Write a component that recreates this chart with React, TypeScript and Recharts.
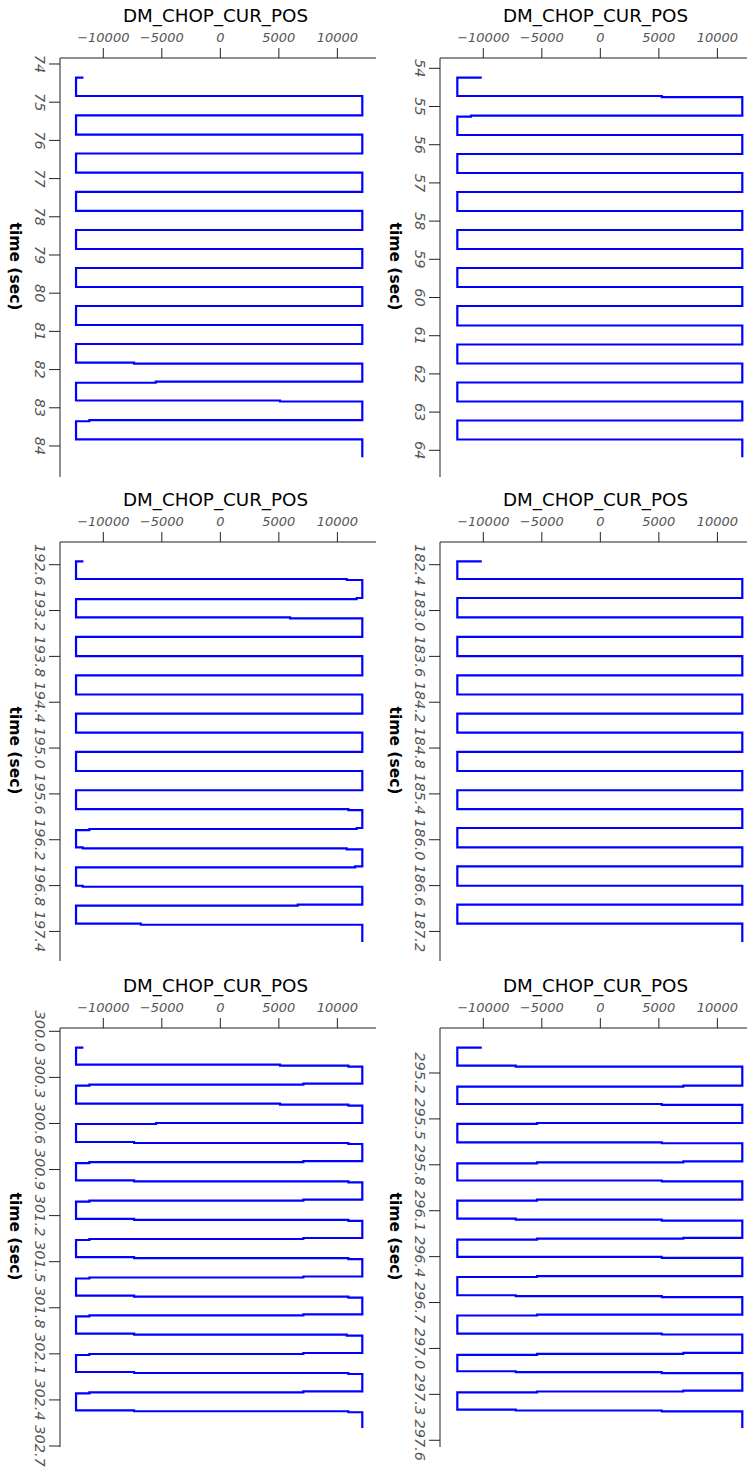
import React from 'react';
import { ScatterChart, Scatter, XAxis, YAxis, Label } from 'recharts';

// ---------- shared axis data ----------
const X_TICKS = [-10000, -5000, 0, 5000, 10000];
const X_DOMAIN: [number, number] = [-13700, 13300];
const X_LABEL = 'DM_CHOP_CUR_POS';
const Y_LABEL = 'time (sec)';

// ---------- panel 1 (top left) ----------
const P1_Y_TICKS = [74, 75, 76, 77, 78, 79, 80, 81, 82, 83, 84];
const P1_Y_DOMAIN: [number, number] = [73.843, 84.812];
const P1_SWEEPS = [74.838, 75.343, 75.851, 76.343, 76.846, 77.346, 77.843, 78.346, 78.843, 79.34, 79.838, 80.335, 80.833, 81.33, 81.819, 82.317, 82.809, 83.325, 83.825];
const P1_JOGS = [[], [], [], [], [], [], [], [], [], [], [], [], [], [], [-7370], [-5520], [5100], [-11190], []];
const P1_START = [-11700, 74.359];
const P1_END = 84.296;
const P1_DWELL = [-12330, 12130];
const P1_DT = 0.027;

// ---------- panel 2 (top right) ----------
const P2_Y_TICKS = [54, 55, 56, 57, 58, 59, 60, 61, 62, 63, 64];
const P2_Y_DOMAIN: [number, number] = [53.73, 64.699];
const P2_SWEEPS = [54.725, 55.236, 55.746, 56.243, 56.741, 57.238, 57.736, 58.233, 58.73, 59.228, 59.725, 60.223, 60.733, 61.23, 61.728, 62.225, 62.723, 63.22, 63.717];
const P2_JOGS = [[5250], [-11050], [], [], [], [], [], [], [], [], [], [], [], [], [], [], [], [], []];
const P2_START = [-10130, 54.246];
const P2_END = 64.183;
const P2_DWELL = [-12220, 12130];
const P2_DT = 0.027;

// ---------- panel 3 (middle left) ----------
const P3_Y_TICKS = [192.6, 193.2, 193.8, 194.4, 195.0, 195.6, 196.2, 196.8, 197.4];
const P3_Y_DOMAIN: [number, number] = [192.303, 197.787];
const P3_SWEEPS = [192.787, 193.036, 193.29, 193.546, 193.798, 194.049, 194.299, 194.55, 194.799, 195.05, 195.3, 195.552, 195.798, 196.046, 196.3, 196.549, 196.802, 197.05, 197.299];
const P3_JOGS = [[10800], [11650], [5960], [], [], [], [], [], [], [], [], [], [10940], [11650, -11190], [-11760, 10800], [11510], [-11760], [6610], [-6800]];
const P3_START = [-11700, 192.557];
const P3_END = 197.538;
const P3_DWELL = [-12330, 12130];
const P3_DT = 0.0135;

// ---------- panel 4 (middle right) ----------
const P4_Y_TICKS = [182.4, 183.0, 183.6, 184.2, 184.8, 185.4, 186.0, 186.6, 187.2];
const P4_Y_DOMAIN: [number, number] = [182.103, 187.587];
const P4_SWEEPS = [182.587, 182.836, 183.09, 183.346, 183.598, 183.849, 184.099, 184.35, 184.599, 184.85, 185.1, 185.352, 185.598, 185.846, 186.1, 186.349, 186.602, 186.85, 187.099];
const P4_JOGS = [[], [], [], [], [], [], [], [], [], [], [], [], [], [], [], [], [], [], []];
const P4_START = [-10130, 182.357];
const P4_END = 187.338;
const P4_DWELL = [-12220, 12130];
const P4_DT = 0.0135;

// ---------- panel 5 (bottom left) ----------
const P5_Y_TICKS = [300.0, 300.3, 300.6, 300.9, 301.2, 301.5, 301.8, 302.1, 302.4, 302.7];
const P5_Y_DOMAIN: [number, number] = [299.9785, 302.7065];
const P5_SWEEPS = [300.2168, 300.3405, 300.4707, 300.597, 300.7207, 300.8457, 300.9707, 301.0957, 301.2207, 301.3457, 301.4707, 301.5964, 301.7214, 301.8424, 301.9681, 302.0944, 302.2181, 302.3438, 302.4674];
const P5_JOGS = [[5100, 10940], [7090, -11190], [5100, 10940], [-5490], [-7370, 10940], [7090, -11190], [-7370, 10940], [7090, -11190], [-7370, 10940], [7090, -11190], [-7370, 10940], [7090, -11190], [-7370, 10940], [7090, -11190], [-7370, 10800], [7090, -11190], [-7370, 10940], [7090, -11190], [-7370, 10940]];
const P5_START = [-11700, 300.1061];
const P5_END = 302.5827;
const P5_DWELL = [-12330, 12130];
const P5_DT = 0.0065;

// ---------- panel 6 (bottom right) ----------
const P6_Y_TICKS = [295.2, 295.5, 295.8, 296.1, 296.4, 296.7, 297.0, 297.3, 297.6];
const P6_Y_DOMAIN: [number, number] = [294.906, 297.644];
const P6_SWEEPS = [295.1517, 295.2823, 295.4026, 295.5267, 295.6528, 295.7776, 295.9024, 296.0272, 296.152, 296.2768, 296.4016, 296.527, 296.6525, 296.7786, 296.9027, 297.0295, 297.149, 297.2751, 297.3993];
const P6_JOGS = [[-7230], [7090], [5250], [-5410], [5250], [7090, -5410], [5250], [-5410], [-7230, 5250], [7090, -5410], [5250], [-5410], [-7230, 5250], [-5410], [5250], [7090, -5410], [-7230, 5250], [7090, -5410], [-7230, 5250]];
const P6_START = [-10130, 295.034];
const P6_END = 297.5195;
const P6_DWELL = [-12220, 12130];
const P6_DT = 0.0062;

type Pt = { x: number; y: number };

// builds the recorded samples (position, time) of the chopper trace
function buildTrace(start: number[], sweeps: number[], jogs: number[][], dwell: number[], end: number, dt: number): Pt[] {
  const pts: Pt[] = [{ x: start[0], y: start[1] }];
  for (let k = 0; k < sweeps.length; k++) {
    const from = k % 2 === 0 ? dwell[0] : dwell[1];
    const to = k % 2 === 0 ? dwell[1] : dwell[0];
    let t = sweeps[k];
    pts.push({ x: from, y: t });
    for (const j of jogs[k] || []) {
      t += dt;
      pts.push({ x: j, y: t });
    }
    t += dt;
    pts.push({ x: to, y: t });
  }
  pts.push({ x: sweeps.length % 2 === 1 ? dwell[1] : dwell[0], y: end });
  return pts;
}

const PANELS = [
  { col: 0, row: 0, ticks: P1_Y_TICKS, domain: P1_Y_DOMAIN, digits: 0, data: buildTrace(P1_START, P1_SWEEPS, P1_JOGS, P1_DWELL, P1_END, P1_DT) },
  { col: 1, row: 0, ticks: P2_Y_TICKS, domain: P2_Y_DOMAIN, digits: 0, data: buildTrace(P2_START, P2_SWEEPS, P2_JOGS, P2_DWELL, P2_END, P2_DT) },
  { col: 0, row: 1, ticks: P3_Y_TICKS, domain: P3_Y_DOMAIN, digits: 1, data: buildTrace(P3_START, P3_SWEEPS, P3_JOGS, P3_DWELL, P3_END, P3_DT) },
  { col: 1, row: 1, ticks: P4_Y_TICKS, domain: P4_Y_DOMAIN, digits: 1, data: buildTrace(P4_START, P4_SWEEPS, P4_JOGS, P4_DWELL, P4_END, P4_DT) },
  { col: 0, row: 2, ticks: P5_Y_TICKS, domain: P5_Y_DOMAIN, digits: 1, data: buildTrace(P5_START, P5_SWEEPS, P5_JOGS, P5_DWELL, P5_END, P5_DT) },
  { col: 1, row: 2, ticks: P6_Y_TICKS, domain: P6_Y_DOMAIN, digits: 1, data: buildTrace(P6_START, P6_SWEEPS, P6_JOGS, P6_DWELL, P6_END, P6_DT) },
];

const ROW_TOPS = [0, 484, 970];
const COL_LEFTS = [0, 380];

const XTick = (props: any) => {
  const { x, y, payload } = props;
  const v = payload.value as number;
  const s = v < 0 ? '\u2212' + Math.abs(v) : String(v);
  return (
    <text x={x} y={y - 6.3} textAnchor="middle" fontFamily="'DejaVu Sans', sans-serif" fontStyle="italic" fontSize={13} fill="#555">
      {s}
    </text>
  );
};

const makeYTick = (digits: number) => (props: any) => {
  const { x, y, payload } = props;
  const v = payload.value as number;
  const bx = x - 14;
  return (
    <text x={0} y={0} transform={`translate(${bx},${y}) rotate(90)`} textAnchor="middle" fontFamily="'DejaVu Sans', sans-serif" fontStyle="italic" fontSize={14.5} fill="#555">
      {v.toFixed(digits)}
    </text>
  );
};

const renderTitle = () => (
  <text x={215.5} y={21.7} textAnchor="middle" fontFamily="'DejaVu Sans', sans-serif" fontSize={18.3} fill="#000">
    {X_LABEL}
  </text>
);

const renderYLabel = () => (
  <text x={0} y={0} transform="translate(10,266.5) rotate(90)" textAnchor="middle" fontFamily="'DejaVu Sans', sans-serif" fontWeight="bold" fontSize={15.5} fill="#000">
    {Y_LABEL}
  </text>
);

const NoShape = () => <g />;

function Panel({ p }: { p: (typeof PANELS)[number] }) {
  return (
    <ScatterChart width={380} height={497} margin={{ top: 28, right: 4, bottom: 20, left: 0 }}>
      <XAxis
        type="number"
        dataKey="x"
        orientation="top"
        domain={X_DOMAIN}
        ticks={X_TICKS}
        interval={0}
        height={30}
        tickSize={10}
        tickMargin={0}
        allowDataOverflow
        stroke="#222"
        tick={<XTick />}
      >
        <Label content={renderTitle} />
      </XAxis>
      <YAxis
        type="number"
        dataKey="y"
        reversed
        domain={p.domain}
        ticks={p.ticks}
        interval={0}
        width={60}
        tickSize={11}
        tickMargin={0}
        allowDataOverflow
        stroke="#222"
        tick={makeYTick(p.digits)}
      >
        <Label content={renderYLabel} />
      </YAxis>
      <Scatter
        data={p.data}
        line={{ stroke: '#0000ff', strokeWidth: 2.2 }}
        lineType="joint"
        lineJointType="stepAfter"
        shape={NoShape}
        fill="#0000ff"
        isAnimationActive={false}
      />
    </ScatterChart>
  );
}

export default function App() {
  return (
    <div style={{ position: 'absolute', left: 0, top: 0, width: 747, height: 1467, overflow: 'hidden', background: '#fff' }}>
      {PANELS.map((p, i) => (
        <div key={i} style={{ position: 'absolute', left: COL_LEFTS[p.col], top: ROW_TOPS[p.row] }}>
          <Panel p={p} />
        </div>
      ))}
    </div>
  );
}
